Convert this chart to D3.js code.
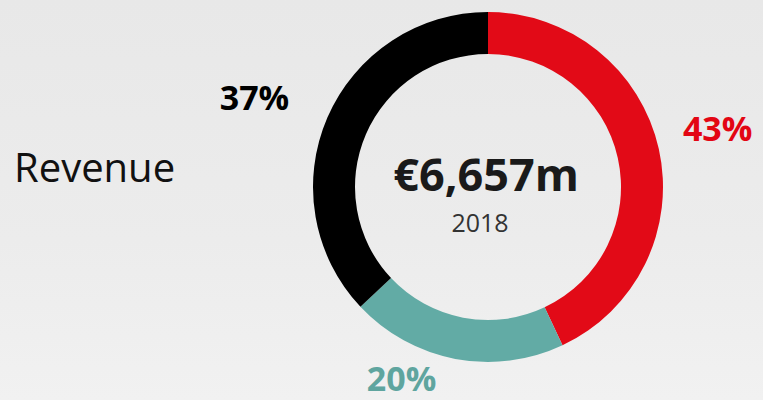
<!DOCTYPE html>
<html>
<head>
<meta charset="utf-8">
<script src="https://cdn.jsdelivr.net/npm/d3@7"></script>
<style>
  html, body { margin: 0; padding: 0; background: #ececec; }
  svg { display: block; font-family: "Open Sans", "Noto Sans", sans-serif; }
</style>
</head>
<body>
<svg class="chart"></svg>
<script>
// revenue split, clockwise from 12 o'clock
var shares = [43, 20, 37];
var shareLabels = ['43%', '20%', '37%'];
var sliceColors = ['#e20a17', '#62aba5', '#000000'];
var labelColors = ['#e30613', '#5fa59f', '#000000'];
var totalLabel = '€6,657m';
var yearLabel = '2018';
var title = 'Revenue';

var width = 763;
var height = 400;
var cx = 488, cy = 187;
var outerR = 175, innerR = 133;

var svg = d3.select('.chart')
  .attr('width', width)
  .attr('height', height);

// soft grey backdrop
var grad = svg.append('defs').append('linearGradient')
  .attr('id', 'bg')
  .attr('x1', 0).attr('y1', 0).attr('x2', 0).attr('y2', 1);
grad.append('stop').attr('offset', '0%').attr('stop-color', '#e8e8e8');
grad.append('stop').attr('offset', '60%').attr('stop-color', '#ececec');
grad.append('stop').attr('offset', '100%').attr('stop-color', '#f1f1f1');

svg.append('rect')
  .attr('width', width)
  .attr('height', height)
  .attr('fill', 'url(#bg)');

var pie = d3.pie().sort(null).value(d => d);
var arc = d3.arc().innerRadius(innerR).outerRadius(outerR);

var g = svg.append('g')
  .attr('transform', 'translate(' + cx + ',' + cy + ')');

var arcs = pie(shares);

g.selectAll('.slice')
  .data(arcs)
  .enter().append('path')
  .attr('class', 'slice')
  .attr('d', arc)
  .attr('fill', (d, i) => sliceColors[i]);

// percentage labels sit outside the ring, a little off the mid angle
var labelPlace = [{ r: 237, a: -1.7 }, { r: 210, a: 13.5 }, { r: 250, a: -2.5 }];

function labelAngle(d, i) {
  return (d.startAngle + d.endAngle) / 2 + labelPlace[i].a * Math.PI / 180;
}

g.selectAll('.pct')
  .data(arcs)
  .enter().append('text')
  .attr('class', 'pct')
  .attr('x', (d, i) => Math.sin(labelAngle(d, i)) * labelPlace[i].r)
  .attr('y', (d, i) => -Math.cos(labelAngle(d, i)) * labelPlace[i].r)
  .attr('dy', '0.36em')
  .attr('text-anchor', 'middle')
  .attr('font-size', 34)
  .attr('font-weight', 700)
  .attr('fill', (d, i) => labelColors[i])
  .text((d, i) => shareLabels[i]);

// centre text
g.append('text')
  .attr('x', -2)
  .attr('y', 4)
  .attr('text-anchor', 'middle')
  .attr('font-size', 45)
  .attr('font-weight', 700)
  .attr('fill', '#1a1a1a')
  .text(totalLabel);

g.append('text')
  .attr('x', -8)
  .attr('y', 45)
  .attr('text-anchor', 'middle')
  .attr('font-size', 25)
  .attr('fill', '#333')
  .text(yearLabel);

svg.append('text')
  .attr('x', 14)
  .attr('y', 182)
  .attr('font-size', 40)
  .attr('fill', '#111')
  .text(title);
</script>
</body>
</html>
